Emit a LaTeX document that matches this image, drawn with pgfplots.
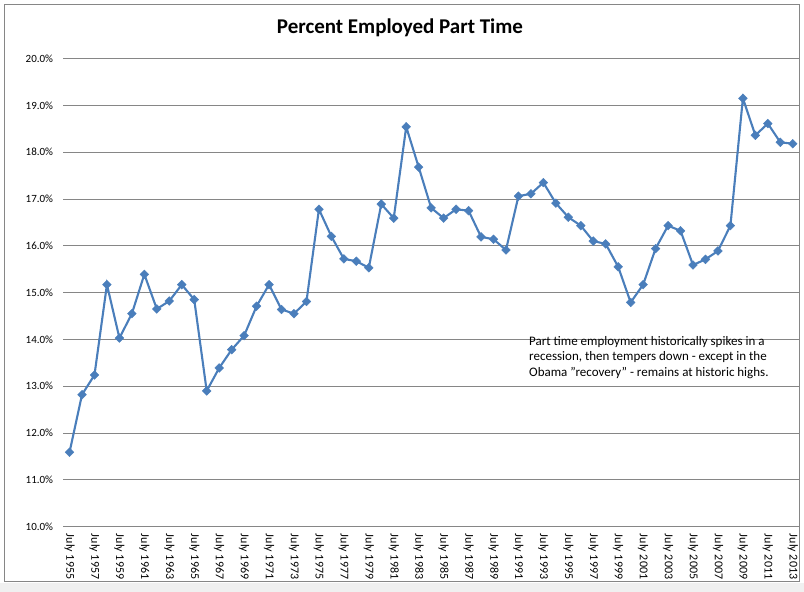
\documentclass[border=0pt]{standalone}
\usepackage{fontspec}
\setmainfont{Carlito}
\usepackage{pgfplots}
\pgfplotsset{compat=1.18}
\definecolor{excelblue}{RGB}{74,126,187}
\definecolor{gridgrey}{RGB}{134,134,134}
\begin{document}
\begin{tikzpicture}[x=1pt,y=1pt]
\useasboundingbox (0,0) rectangle (804,592);
\fill[gray!12] (0,0) rectangle (804,9);
\draw[gridgrey, line width=0.9pt] (4,11) rectangle (799,588);
\node[font=\fontsize{21}{25}\selectfont\bfseries, anchor=center] at (400,564) {Percent Employed Part Time};
\begin{axis}[
  at={(63.3pt,65.3pt)}, anchor=south west,
  scale only axis, width=735.7pt, height=468.2pt,
  xmin=1954.5, xmax=2013.5, ymin=10, ymax=20,
  axis line style={draw=none},
  major tick length=0pt,
  ymajorgrids, grid style={gridgrey, line width=0.9pt},
  ytick={10,11,...,20},
  yticklabels={10.0\%,11.0\%,12.0\%,13.0\%,14.0\%,15.0\%,16.0\%,17.0\%,18.0\%,19.0\%,20.0\%},
  yticklabel style={font=\fontsize{11}{13}\selectfont, anchor=east, inner sep=0pt, xshift=-10pt},
  xtick={1955,1957,...,2013},
  xticklabels={July 1955,July 1957,July 1959,July 1961,July 1963,July 1965,July 1967,July 1969,July 1971,July 1973,July 1975,July 1977,July 1979,July 1981,July 1983,July 1985,July 1987,July 1989,July 1991,July 1993,July 1995,July 1997,July 1999,July 2001,July 2003,July 2005,July 2007,July 2009,July 2011,July 2013},
  xticklabel style={font=\fontsize{12}{14}\selectfont, yshift=-7pt, rotate=-90, anchor=west, inner sep=0pt},
  clip=false,
]
\addplot[excelblue, line width=2.1pt, mark=square*, mark size=3.1pt,
  mark options={rotate=45, solid, fill=excelblue, draw=excelblue, line width=0.4pt}]
  coordinates {
  (1955,11.59) (1956,12.82) (1957,13.24) (1958,15.17) (1959,14.03)
  (1960,14.55) (1961,15.39) (1962,14.65) (1963,14.82) (1964,15.17)
  (1965,14.85) (1966,12.90) (1967,13.39) (1968,13.78) (1969,14.08)
  (1970,14.71) (1971,15.17) (1972,14.64) (1973,14.55) (1974,14.81)
  (1975,16.78) (1976,16.20) (1977,15.72) (1978,15.67) (1979,15.53)
  (1980,16.89) (1981,16.59) (1982,18.54) (1983,17.68) (1984,16.81)
  (1985,16.59) (1986,16.78) (1987,16.75) (1988,16.19) (1989,16.14)
  (1990,15.91) (1991,17.06) (1992,17.11) (1993,17.35) (1994,16.91)
  (1995,16.61) (1996,16.43) (1997,16.10) (1998,16.04) (1999,15.55)
  (2000,14.79) (2001,15.17) (2002,15.94) (2003,16.43) (2004,16.32)
  (2005,15.59) (2006,15.71) (2007,15.89) (2008,16.43) (2009,19.15)
  (2010,18.36) (2011,18.61) (2012,18.21) (2013,18.18)
  };
\end{axis}
\node[font=\fontsize{13}{15}\selectfont, anchor=base west, inner sep=0pt] at (529,246.3) {Part time employment historically spikes in a};
\node[font=\fontsize{13}{15}\selectfont, anchor=base west, inner sep=0pt] at (529,231.3) {recession, then tempers down - except in the};
\node[font=\fontsize{13}{15}\selectfont, anchor=base west, inner sep=0pt] at (529,215.8) {Obama "recovery" - remains at historic highs.};
\end{tikzpicture}
\end{document}
